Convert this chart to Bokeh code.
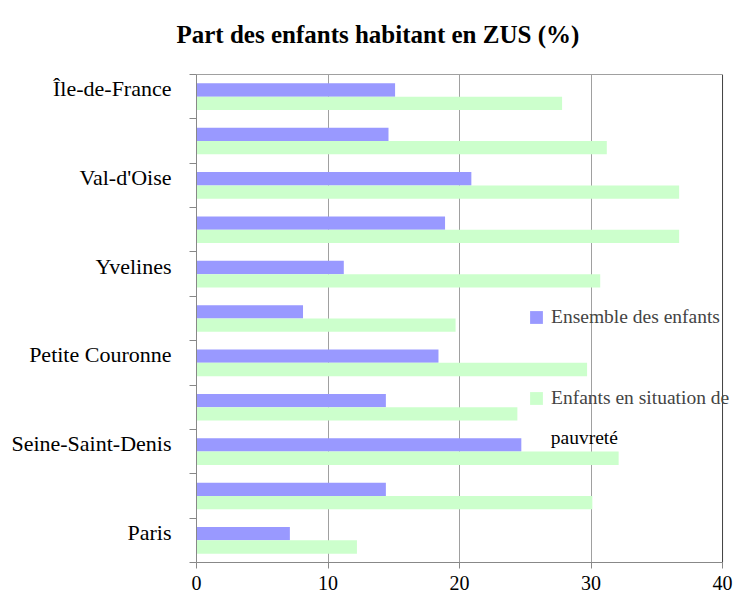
from bokeh.plotting import figure
from bokeh.models import (Range1d, FixedTicker, Span, Legend, LegendItem, ColumnDataSource,
                          LinearAxis, Label)
from bokeh.embed import file_html
from bokeh.resources import INLINE

# ---- data (bottom to top) ----
categories = ["Paris", "Hauts-de-Seine", "Seine-Saint-Denis", "Val-de-Marne",
              "Petite Couronne", "Seine-et-Marne", "Yvelines", "Essonne",
              "Val-d'Oise", "Grande Couronne", "Île-de-France"]
ensemble = [7.1, 14.4, 24.7, 14.4, 18.4, 8.1, 11.2, 18.9, 20.9, 14.6, 15.1]
pauvrete = [12.2, 30.1, 32.1, 24.4, 29.7, 19.7, 30.7, 36.7, 36.7, 31.2, 27.8]
x_ticks = [0, 10, 20, 30, 40]
title_text = "Part des enfants habitant en ZUS (%)"
legend_line1 = ["Ensemble des enfants", "Enfants en situation de"]
legend_line2 = "pauvreté"

FONT = "Liberation Serif"
BLUE = "#9999ff"
GREEN = "#ccffcc"
AXIS_GREY = "#888888"

n = len(categories)
idx = list(range(n))
src = ColumnDataSource(dict(
    cat=categories,
    y_blue=[i + 0.65 for i in idx],
    y_green=[i + 0.35 for i in idx],
    ensemble=ensemble,
    pauvrete=pauvrete,
))

xmax = x_ticks[-1]
# trailing empty line lifts the single visible title line away from the frame
p = figure(width=734, height=598, output_backend="svg", toolbar_location=None,
           x_range=Range1d(x_ticks[0], xmax + 0.91), y_range=Range1d(0, n),
           title=title_text + "\n")
p.min_border_left = 196
p.min_border_right = 0
p.min_border_top = 74
p.min_border_bottom = 36

r_blue = p.hbar(y="y_blue", left=0, right="ensemble", height=0.3, source=src,
                fill_color=BLUE, line_color=None)
r_green = p.hbar(y="y_green", left=0, right="pauvrete", height=0.3, source=src,
                 fill_color=GREEN, line_color=None)

# title
p.title.text_font = FONT
p.title.text_font_size = "25px"
p.title.text_font_style = "bold"
p.title.text_color = "#000000"
p.title.align = "left"
p.title.offset = -20
p.title.standoff = 0

# bottom x axis
xa = p.below[0]
xa.ticker = FixedTicker(ticks=x_ticks)
xa.bounds = (x_ticks[0], xmax)
xa.major_label_text_font = FONT
xa.major_label_text_font_size = "20px"
xa.major_label_text_color = "#000000"
xa.major_tick_out = 6
xa.major_tick_in = 0
xa.minor_tick_out = 0
xa.minor_tick_in = 0
xa.axis_line_color = AXIS_GREY
xa.major_tick_line_color = AXIS_GREY
xa.major_label_standoff = 7

# top border drawn as an axis line (0..40)
top = LinearAxis(ticker=FixedTicker(ticks=[]), bounds=(x_ticks[0], xmax))
top.axis_line_color = "#a0a0a0"
top.major_tick_out = 0
top.major_tick_in = 0
top.minor_tick_out = 0
top.minor_tick_in = 0
top.major_label_standoff = 0
p.add_layout(top, "above")

# y axis: labels at every other category, ticks at category boundaries
ya = p.left[0]
label_pos = [i + 0.68 for i in idx[::2]]
ya.ticker = FixedTicker(ticks=label_pos, minor_ticks=list(range(n + 1)))
ya.major_label_overrides = {i + 0.68: categories[i] for i in idx[::2]}
ya.major_label_text_font = FONT
ya.major_label_text_font_size = "22px"
ya.major_label_text_color = "#000000"
ya.major_tick_out = 0
ya.major_tick_in = 0
ya.minor_tick_out = 7
ya.minor_tick_in = 0
ya.minor_tick_line_color = AXIS_GREY
ya.axis_line_color = AXIS_GREY
ya.major_label_standoff = 18

# grid
p.xgrid.ticker = FixedTicker(ticks=x_ticks[1:-1])
p.xgrid.grid_line_color = "#a0a0a0"
p.ygrid.grid_line_color = None
p.outline_line_color = None
p.add_layout(Span(location=xmax, dimension="height", line_color="#404040", line_width=1))

# legend
legend = Legend(items=[LegendItem(label=legend_line1[0], renderers=[r_blue]),
                       LegendItem(label=legend_line1[1], renderers=[r_green])],
                location=(332, 153))
legend.label_text_font = FONT
legend.label_text_font_size = "19.5px"
legend.glyph_width = 16
legend.glyph_height = 16
legend.label_standoff = 7
legend.spacing = 59
legend.padding = 0
legend.margin = 0
legend.border_line_alpha = 0
legend.background_fill_alpha = 0
p.add_layout(legend)

p.add_layout(Label(x=26.94, y=2.824, text=legend_line2, text_font=FONT,
                   text_font_size="19.5px", text_baseline="alphabetic",
                   text_color="#000000"))

open("out.html", "w").write(file_html(p, INLINE))
